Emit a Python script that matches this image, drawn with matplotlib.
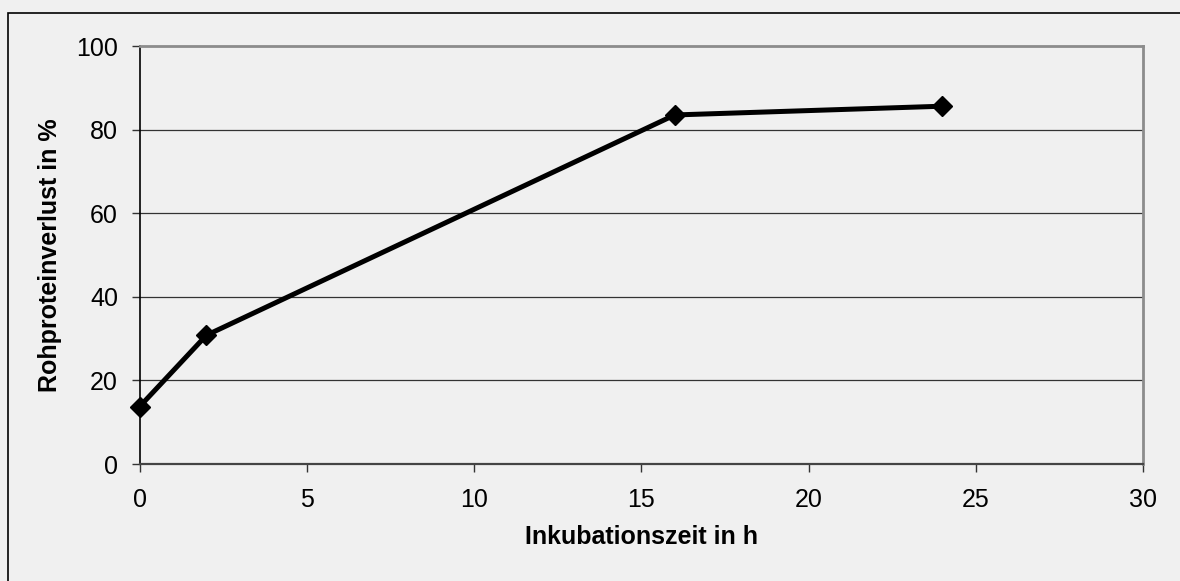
import numpy as np
import matplotlib.pyplot as plt
from matplotlib.patches import Rectangle

# Daten
zeit = [0, 2, 16, 24]
verlust = [13.7, 30.8, 83.5, 85.6]
xticks = [0, 5, 10, 15, 20, 25, 30]
yticks = [0, 20, 40, 60, 80, 100]

plt.rcParams['font.family'] = ['Liberation Sans', 'DejaVu Sans']
bg = '#f0f0f0'

fig = plt.figure(figsize=(11.8, 5.81), dpi=100, facecolor=bg)
ax = fig.add_axes([139.5/1180, 1-464/581, (1143-139.5)/1180, (464-46)/581])
ax.set_facecolor(bg)

# Rahmen um das Diagramm (rechts/unten ausserhalb des Bildes)
fig.patches.append(Rectangle((8/1180, -0.1), 1.2, 1-13/581+0.1, transform=fig.transFigure,
                             fill=False, edgecolor='black', linewidth=1.2))

ax.plot(zeit, verlust, color='black', linewidth=3.6, marker='D', markersize=10.5,
        markerfacecolor='black', markeredgecolor='black', clip_on=False, zorder=5)

ax.set_xlim(0, 30)
ax.set_ylim(0, 100)
ax.set_xticks(xticks)
ax.set_yticks(yticks)
for y in yticks[1:-1]:
    ax.axhline(y, color='#333333', linewidth=0.9, zorder=1)

ax.tick_params(direction='out', length=6, width=1, labelsize=18, color='#333333')
ax.tick_params(axis='x', pad=11)
ax.tick_params(axis='y', pad=9.5)
ax.spines['left'].set_color('black')
ax.spines['left'].set_linewidth(1.2)
ax.spines['bottom'].set_color('#444444')
ax.spines['bottom'].set_linewidth(1.6)
ax.spines['top'].set_color('#8c8c8c')
ax.spines['top'].set_linewidth(2)
ax.spines['right'].set_color('#8c8c8c')
ax.spines['right'].set_linewidth(2)

ax.set_xlabel('Inkubationszeit in h', fontsize=18, fontweight='bold', labelpad=10)
ax.set_ylabel('Rohproteinverlust in %', fontsize=18, fontweight='bold', labelpad=10.5)

fig.savefig('out.png', dpi=100, facecolor=bg)
